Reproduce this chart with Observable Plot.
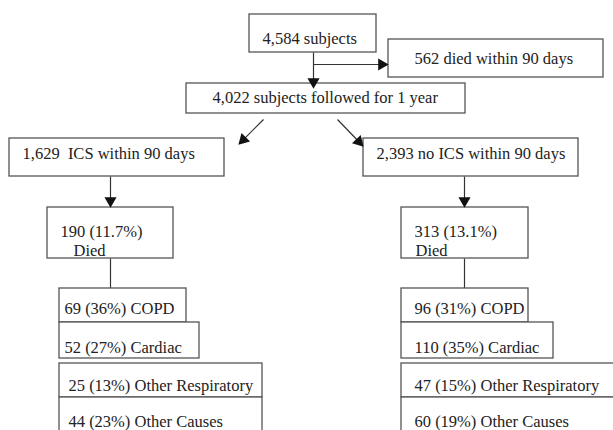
<!DOCTYPE html>
<html>
<head>
<meta charset="utf-8">
<script src="https://cdn.jsdelivr.net/npm/d3@7"></script>
<script src="https://cdn.jsdelivr.net/npm/@observablehq/plot@0.6"></script>
<style>
  html, body { margin: 0; padding: 0; background: #ffffff; }
  #chart svg { display: block; background: #ffffff; }
</style>
</head>
<body>
<div id="chart"></div>
<script>
// ---- Data ----
const cohortTotal = 4584;
const diedWithin90 = 562;
const followedOneYear = 4022;
const groupLabels = ["ICS within 90 days", "no ICS within 90 days"];
const groupCounts = [1629, 2393];
const groupDeaths = [190, 313];
const groupDeathPct = [11.7, 13.1];
const causeLabels = ["COPD", "Cardiac", "Other Respiratory", "Other Causes"];
const icsCauseCounts = [69, 52, 25, 44];
const icsCausePct = [36, 27, 13, 23];
const noIcsCauseCounts = [96, 110, 47, 60];
const noIcsCausePct = [31, 35, 15, 19];

// ---- Layout (flowchart geometry, in pixel units of the 613x430 frame) ----
const fmt = d3.format(",");
const W = 613, H = 430;

const boxes = [];
const texts = [];
const links = [];
const heads = [];

function box(x1, y1, x2, y2) { boxes.push({x1, y1, x2, y2}); }
function label(x, y, text) { texts.push({x, y, text}); }
function line(x1, y1, x2, y2) { links.push({x1, y1, x2, y2}); }
function arrow(x1, y1, x2, y2) {
  const dx = x2 - x1, dy = y2 - y1, len = Math.hypot(dx, dy);
  const ux = dx / len, uy = dy / len;
  const back = 6.8; // centroid offset from tip
  line(x1, y1, x2 - ux * 8, y2 - uy * 8);
  const rot = Math.atan2(ux, -uy) * 180 / Math.PI;
  heads.push({x: x2 - ux * back, y: y2 - uy * back, rotate: rot});
}

// top
box(249, 14, 376, 52);
label(262, 43, `${fmt(cohortTotal)} subjects`);
box(388, 39, 603, 77);
label(414, 63, `${diedWithin90} died within 90 days`);
arrow(313, 52, 313, 88);
arrow(313, 64, 388, 64);
box(186, 83, 465, 113);
label(212, 102, `${fmt(followedOneYear)} subjects followed for 1 year`);

// split
arrow(263, 119, 238, 144);
arrow(337, 119, 363, 146);

const cols = [
  {bx1: 9, bx2: 224, tx: 22, cx: 110, dx1: 47, dx2: 173, dtx: 60, dtx2: 73,
   kx1: 59, kx2: [186, 199, 262, 262], ktx: [64, 64, 68, 68],
   counts: icsCauseCounts, pct: icsCausePct, sep: "\u00a0 "},
  {bx1: 363, bx2: 578, tx: 376, cx: 464, dx1: 401, dx2: 528, dtx: 414, dtx2: 415,
   kx1: 401, kx2: [528, 553, 616, 616], ktx: [414, 414, 414, 414],
   counts: noIcsCauseCounts, pct: noIcsCausePct, sep: " "}
];
const causeY = [[288, 322], [322, 358], [363, 397], [397, 445]];
const causeBase = [313, 352, 390, 426];

cols.forEach((c, i) => {
  box(c.bx1, 138, c.bx2, 176);
  label(c.tx, 158, `${fmt(groupCounts[i])}${c.sep}${groupLabels[i]}`);
  arrow(c.cx, 176, c.cx, 207);
  box(c.dx1, 207, c.dx2, 258);
  label(c.dtx, 236, `${groupDeaths[i]} (${groupDeathPct[i]}%)`);
  label(c.dtx2, 255, "Died");
  line(c.cx, 258, c.cx, 288);
  causeLabels.forEach((name, k) => {
    box(c.kx1, causeY[k][0], c.kx2[k], causeY[k][1]);
    label(c.ktx[k], causeBase[k], `${c.counts[k]} (${c.pct[k]}%) ${name}`);
  });
});

const chart = Plot.plot({
  width: W,
  height: H,
  margin: 0,
  style: {background: "#ffffff"},
  x: {type: "linear", domain: [0, W], range: [0, W], axis: null},
  y: {type: "linear", domain: [0, H], range: [0, H], axis: null},
  marks: [
    Plot.link(links, {x1: "x1", y1: "y1", x2: "x2", y2: "y2", stroke: "#333", strokeWidth: 1.2}),
    Plot.rect(boxes, {x1: "x1", y1: "y1", x2: "x2", y2: "y2", fill: "#ffffff", stroke: "#555", strokeWidth: 1.3}),
    Plot.dot(heads, {x: "x", y: "y", rotate: "rotate", symbol: "triangle", r: 4.5, fill: "#111", stroke: "none"}),
    Plot.text(texts, {x: "x", y: "y", text: "text", textAnchor: "start", lineAnchor: "bottom",
      fontFamily: "Liberation Serif", fontSize: 16.5, fill: "#222"})
  ]
});
document.getElementById("chart").appendChild(chart);
</script>
</body>
</html>
